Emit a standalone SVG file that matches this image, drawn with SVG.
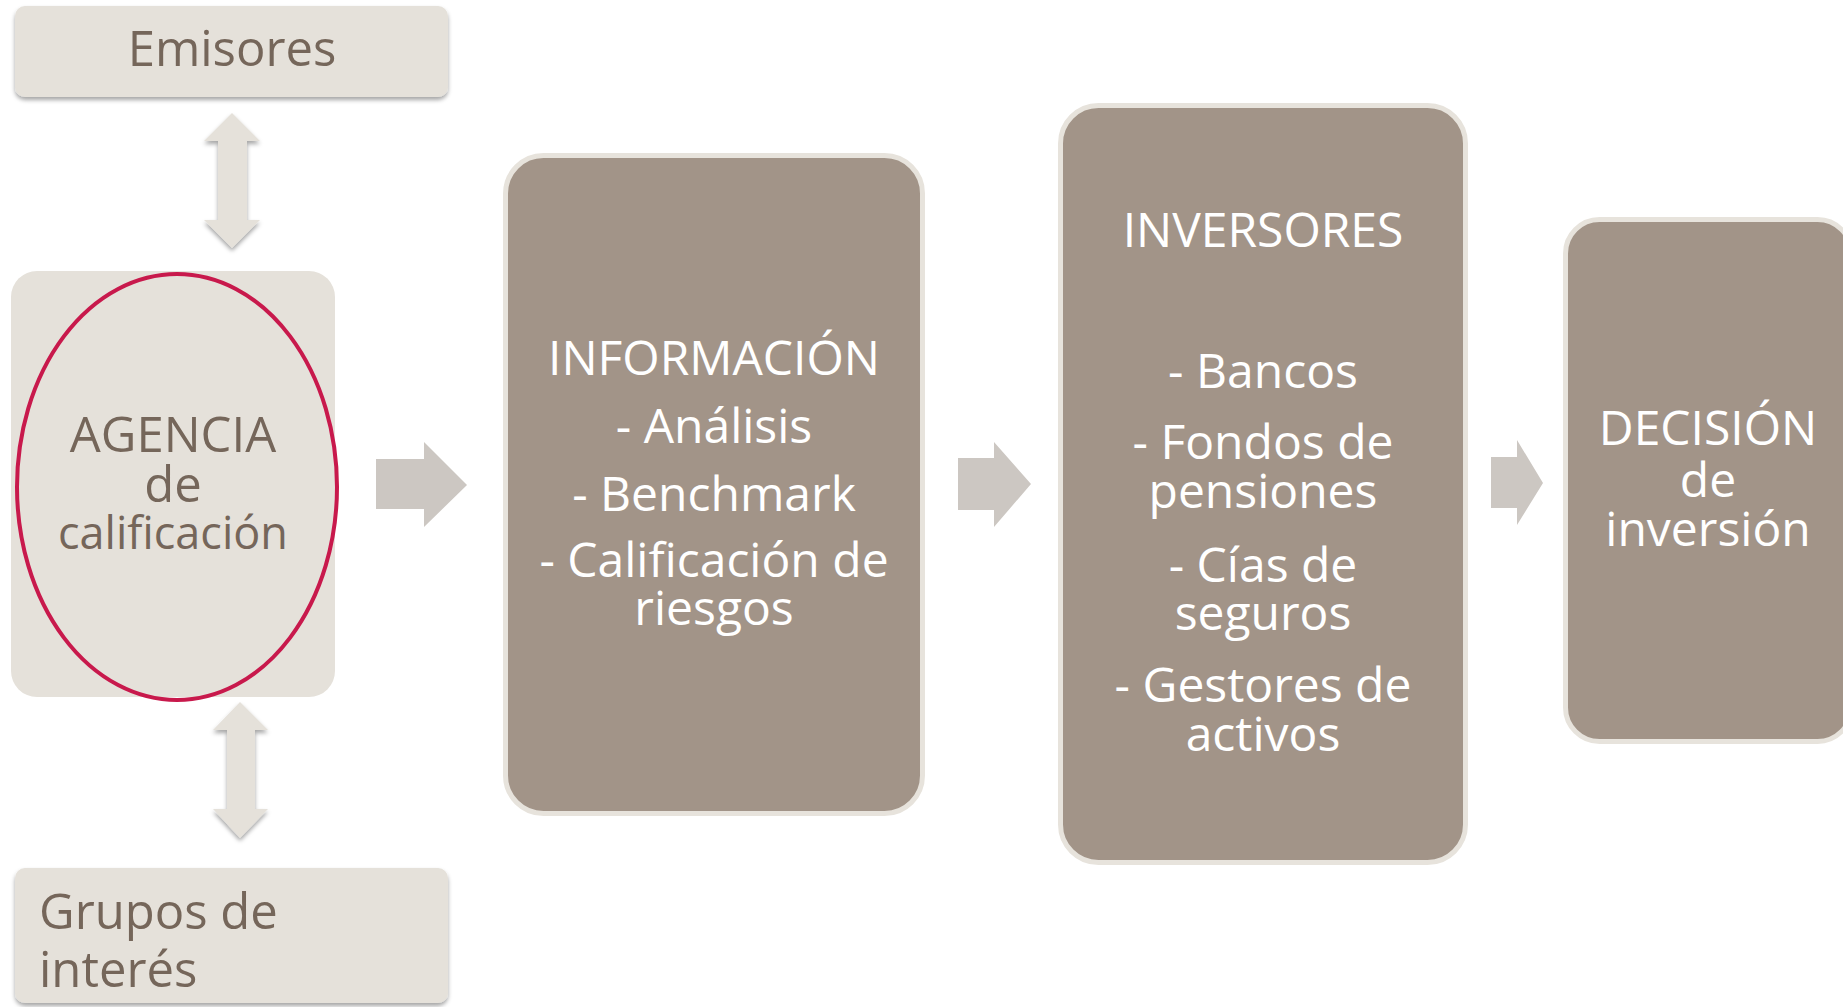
<svg xmlns="http://www.w3.org/2000/svg" width="1843" height="1007" viewBox="0 0 1843 1007">
<style>
.light{fill:#E5E1DA}
.dark{fill:#A29488;stroke:#E7E3DC;stroke-width:5}
.t{font-family:"Open Sans","Noto Sans",sans-serif}
.tl{fill:#75665A;font-size:49px}
.tw{fill:#FFFFFF;font-size:48px;text-anchor:middle}
.arr{fill:#CCC7C2}
.darr{fill:#E5E1DA}
</style>
<defs>
<filter id="sh" x="-10%" y="-10%" width="120%" height="130%">
<feDropShadow dx="0" dy="3" stdDeviation="2" flood-color="#000" flood-opacity="0.35"/>
</filter>
</defs>
<rect width="1843" height="1007" fill="#FFFFFF"/>

<g id="connectors">
<path class="darr" filter="url(#sh)" d="M232,113 L260,141 L247,141 L247,220 L260,220 L232,248 L204,220 L218,220 L218,141 L204,141 Z"/>
<path class="darr" filter="url(#sh)" d="M240,702 L268,730 L255,730 L255,809 L268,809 L240,838 L213,809 L227,809 L227,730 L213,730 Z"/>
<path class="arr" d="M376,459 L424,459 L424,442 L467,485 L424,527 L424,509 L376,509 Z"/>
<path class="arr" d="M958,458 L994,458 L994,442 L1031,484 L994,527 L994,510 L958,510 Z"/>
<path class="arr" d="M1491,457 L1517,457 L1517,440 L1543,483 L1517,525 L1517,508 L1491,508 Z"/>
</g>

<g id="emisores">
<rect class="light" filter="url(#sh)" x="15" y="6" width="433" height="91" rx="10"/>
<text class="t tl" x="232" y="66" text-anchor="middle">Emisores</text>
</g>

<g id="agencia">
<rect class="light" x="11" y="271" width="324" height="426" rx="26"/>
<ellipse cx="177" cy="487" rx="160" ry="213" fill="none" stroke="#C8194C" stroke-width="4"/>
<text class="t tl" text-anchor="middle" font-size="50"><tspan x="173" y="452">AGENCIA</tspan><tspan x="173" y="502">de</tspan><tspan x="173" y="549" font-size="45">calificación</tspan></text>
</g>

<g id="grupos">
<rect class="light" filter="url(#sh)" x="15" y="868" width="433" height="135" rx="10"/>
<text class="t tl" font-size="50"><tspan x="39" y="929">Grupos de</tspan><tspan x="39" y="987">interés</tspan></text>
</g>

<g id="informacion">
<rect class="dark" x="505.5" y="155.5" width="417" height="658" rx="38"/>
<text class="t tw"><tspan x="714" y="375">INFORMACIÓN</tspan><tspan x="714" y="443">- Análisis</tspan><tspan x="714" y="511">- Benchmark</tspan><tspan x="714" y="577">- Calificación de</tspan><tspan x="714" y="625">riesgos</tspan></text>
</g>

<g id="inversores">
<rect class="dark" x="1060.5" y="105.5" width="405" height="757" rx="38"/>
<text class="t tw"><tspan x="1263" y="247">INVERSORES</tspan><tspan x="1263" y="388">- Bancos</tspan><tspan x="1263" y="459">- Fondos de</tspan><tspan x="1263" y="508">pensiones</tspan><tspan x="1263" y="582">- Cías de</tspan><tspan x="1263" y="630">seguros</tspan><tspan x="1263" y="702">- Gestores de</tspan><tspan x="1263" y="751">activos</tspan></text>
</g>

<g id="decision">
<rect class="dark" x="1565.5" y="219.5" width="286" height="522" rx="34"/>
<text class="t tw"><tspan x="1708" y="445">DECISIÓN</tspan><tspan x="1708" y="497">de</tspan><tspan x="1708" y="546">inversión</tspan></text>
</g>
</svg>
